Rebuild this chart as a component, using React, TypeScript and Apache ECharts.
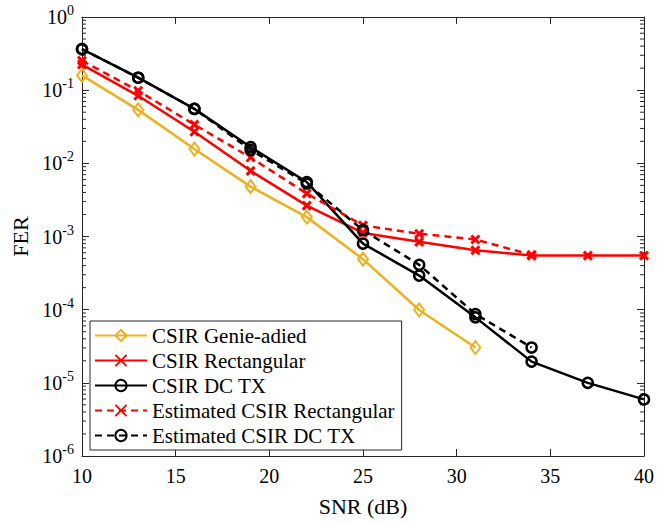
import React, { useEffect, useRef } from "react";
import * as echarts from "echarts";

const snr = [10, 13, 16, 19, 22, 25, 28, 31, 34, 37, 40];
const genieAided = [0.159, 0.0538, 0.0157, 0.0048, 0.00184, 0.00049, 0.000099, 0.0000304];
const rectangular = [0.224, 0.0838, 0.027, 0.0079, 0.00264, 0.00112, 0.000845, 0.00065, 0.000548, 0.000548, 0.000548];
const dcTx = [0.364, 0.148, 0.0555, 0.0167, 0.00555, 0.0008, 0.000292, 0.0000785, 0.0000195, 0.00001, 0.00000594];
const estRectangular = [0.253, 0.098, 0.0338, 0.012, 0.00386, 0.00142, 0.00109, 0.00091, 0.00056];
const estDcTx = [0.364, 0.148, 0.0555, 0.0153, 0.0053, 0.00122, 0.00041, 0.000087, 0.0000304];
const seriesNames = [
  "CSIR Genie-adied",
  "CSIR Rectangular",
  "CSIR DC TX",
  "Estimated CSIR Rectangular",
  "Estimated CSIR DC TX",
];
const xTicks = { min: 10, max: 40, step: 5 };
const yDecades = { min: 1e-6, max: 1 };

const FONT = "'Liberation Serif', 'DejaVu Serif', serif";
const AX = "#262626";
const X_SYMBOL = "path://M0,0L10,10M10,0L0,10";

function pairs(vals: number[]) {
  return vals.map((v, i) => [snr[i], v]);
}

function minorTickValues() {
  const out: number[][] = [];
  for (let e = -6; e < 0; e++) {
    for (let k = 2; k <= 9; k++) out.push([10, k * Math.pow(10, e)]);
  }
  return out;
}

export default function App() {
  const ref = useRef<HTMLDivElement>(null);
  useEffect(() => {
    if (!ref.current) return;
    const chart = echarts.init(ref.current, undefined, { renderer: "svg" });
    const line = (name: string, data: number[], color: string, dashed: boolean, symbol: string, size: any, bw: number) => ({
      name,
      type: "line",
      data: pairs(data),
      symbol,
      symbolSize: size,
      showSymbol: true,
      lineStyle: { color, width: 2.5, type: dashed ? [7, 5] : "solid" },
      itemStyle: { color: "rgba(255,255,255,0)", borderColor: color, borderWidth: bw },
      emphasis: { disabled: true },
      z: 3,
    });
    const option: any = {
      animation: false,
      textStyle: { fontFamily: FONT },
      grid: { left: 82, top: 17, right: 9, bottom: 60 },
      legend: {
        data: seriesNames,
        orient: "vertical",
        left: 90,
        top: 321,
        backgroundColor: "#fff",
        borderColor: AX,
        borderWidth: 1,
        borderRadius: 0,
        padding: [4, 7, 4, 4],
        itemWidth: 52,
        itemHeight: 14,
        itemGap: 4,
        selectedMode: false,
        textStyle: { fontFamily: FONT, fontSize: 21, color: "#000" },
      },
      xAxis: [
        {
          type: "value",
          min: xTicks.min,
          max: xTicks.max,
          interval: xTicks.step,
          name: "SNR (dB)",
          nameLocation: "middle",
          nameGap: 39,
          nameTextStyle: { fontFamily: FONT, fontSize: 22, color: "#000" },
          axisLine: { show: true, lineStyle: { color: AX, width: 1 } },
          axisTick: { show: true, inside: true, length: 7, lineStyle: { color: AX } },
          axisLabel: { fontFamily: FONT, fontSize: 20, color: "#000", margin: 10 },
          splitLine: { show: false },
        },
        {
          type: "value",
          position: "top",
          min: xTicks.min,
          max: xTicks.max,
          interval: xTicks.step,
          axisLine: { show: true, lineStyle: { color: AX, width: 1 } },
          axisTick: { show: true, inside: true, length: 7, lineStyle: { color: AX } },
          axisLabel: { show: false },
          splitLine: { show: false },
        },
      ],
      yAxis: [
        {
          type: "log",
          logBase: 10,
          min: yDecades.min,
          max: yDecades.max,
          splitNumber: 6,
          name: "FER",
          nameLocation: "middle",
          nameGap: 49,
          nameTextStyle: { fontFamily: FONT, fontSize: 22, color: "#000" },
          axisLine: { show: true, lineStyle: { color: AX, width: 1 } },
          axisTick: { show: true, inside: true, length: 7, lineStyle: { color: AX } },
          axisLabel: {
            margin: 8,
            formatter: (v: number) => `{b|10}{s|${Math.round(Math.log10(v))}}`,
            rich: {
              b: { fontFamily: FONT, fontSize: 20, color: "#000" },
              s: { fontFamily: FONT, fontSize: 14, color: "#000", padding: [0, 0, 13, 0] },
            },
          },
          splitLine: { show: false },
        },
        {
          type: "log",
          logBase: 10,
          position: "right",
          min: yDecades.min,
          max: yDecades.max,
          splitNumber: 6,
          axisLine: { show: true, lineStyle: { color: AX, width: 1 } },
          axisTick: { show: true, inside: true, length: 7, lineStyle: { color: AX } },
          axisLabel: { show: false },
          splitLine: { show: false },
        },
      ],
      series: [
        {
          name: "minor",
          type: "custom",
          silent: true,
          clip: false,
          data: minorTickValues(),
          renderItem: (params: any, api: any) => {
            const v = api.value(1);
            const pL = api.coord([xTicks.min, v]);
            const pR = api.coord([xTicks.max, v]);
            const st = { stroke: AX, lineWidth: 1 };
            return {
              type: "group",
              children: [
                { type: "line", shape: { x1: pL[0], y1: pL[1], x2: pL[0] + 4, y2: pL[1] }, style: st },
                { type: "line", shape: { x1: pR[0], y1: pR[1], x2: pR[0] - 4, y2: pR[1] }, style: st },
              ],
            };
          },
          z: 1,
        },
        line(seriesNames[0], genieAided, "#EDB120", false, "diamond", [10, 13], 2),
        line(seriesNames[1], rectangular, "#FF0000", false, X_SYMBOL, 8, 3),
        line(seriesNames[2], dcTx, "#000000", false, "circle", 10, 2.5),
        line(seriesNames[3], estRectangular, "#FF0000", true, X_SYMBOL, 8, 3),
        line(seriesNames[4], estDcTx, "#000000", true, "circle", 10, 2.5),
      ],
    };
    chart.setOption(option);
    return () => chart.dispose();
  }, []);
  return (
    <div
      ref={ref}
      style={{ position: "fixed", left: 0, top: 0, width: 657, height: 522, background: "#fff" }}
    />
  );
}
